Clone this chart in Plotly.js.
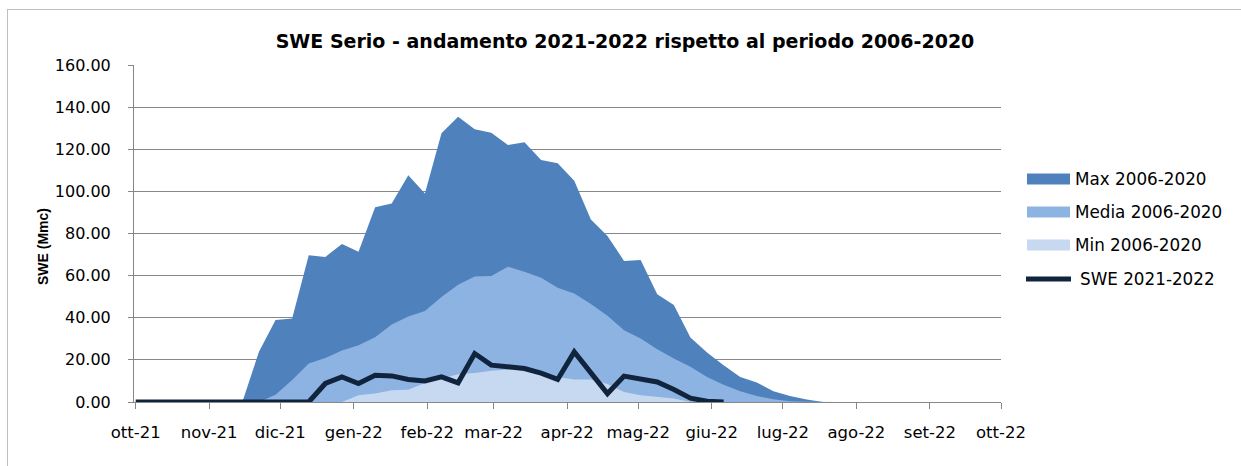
<!DOCTYPE html>
<html>
<head>
<meta charset="utf-8">
<script src="https://cdn.plot.ly/plotly-3.0.1.min.js"></script>
<style>
  html, body { margin: 0; padding: 0; background: #ffffff; }
  #wrap { position: relative; width: 1241px; height: 466px; overflow: hidden; }
  #chart { width: 1241px; height: 466px; }
  #frame { position: absolute; left: 7px; top: 9px; width: 1250px; height: 470px;
           border: 1px solid #bfbfbf; pointer-events: none; }
</style>
</head>
<body>
<div id="wrap">
  <div id="chart"></div>
  <div id="frame"></div>
</div>
<script>
// ---- data ----
const dates = [
  '2021-10-01','2021-10-04','2021-10-11','2021-10-18','2021-10-25','2021-11-01','2021-11-08',
  '2021-11-15','2021-11-22','2021-11-29','2021-12-06','2021-12-13','2021-12-20','2021-12-27',
  '2022-01-03','2022-01-10','2022-01-17','2022-01-24','2022-01-31','2022-02-07','2022-02-14',
  '2022-02-21','2022-02-28','2022-03-07','2022-03-14','2022-03-21','2022-03-28','2022-04-04',
  '2022-04-11','2022-04-18','2022-04-25','2022-05-02','2022-05-09','2022-05-16','2022-05-23',
  '2022-05-30','2022-06-06','2022-06-13','2022-06-20','2022-06-27','2022-07-04','2022-07-11',
  '2022-07-18','2022-07-25'
];
const maxVals = [
  0, 0, 0, 0, 0, 0, 0,
  0, 23.8, 38.9, 39.7, 69.7, 68.9, 75.0,
  71.3, 92.5, 94.3, 107.7, 99.0, 127.6, 135.4,
  129.5, 127.8, 122.0, 123.3, 114.9, 113.3, 105.0,
  86.7, 78.8, 67.0, 67.4, 51.2, 46.0, 30.6,
  23.5, 17.5, 11.9, 9.3, 5.1, 2.8, 1.2,
  0, 0
];
const mediaVals = [
  0, 0, 0, 0, 0, 0, 0,
  0, 0, 3.5, 10.4, 18.3, 20.9, 24.4,
  27.0, 30.8, 36.8, 40.6, 43.2, 49.8, 55.7,
  59.6, 59.8, 64.2, 61.8, 59.0, 54.2, 51.5,
  46.5, 40.9, 34.1, 30.2, 25.1, 20.7, 16.7,
  11.9, 8.2, 5.1, 2.8, 1.3, 0.4, 0.1,
  0, 0
];
const minVals = [
  0, 0, 0, 0, 0, 0, 0,
  0, 0, 0, 0, 0, 0, 0,
  3.2, 4.0, 5.6, 5.8, 9.0, 11.2, 13.2,
  13.8, 14.8, 15.4, 15.6, 14.0, 11.9, 10.7,
  10.7, 8.5, 4.8, 3.2, 2.4, 1.7, 0,
  0, 0, 0, 0, 0, 0, 0,
  0, 0
];
const sweVals = [
  0, 0, 0, 0, 0, 0, 0,
  0, 0, 0, 0, 0, 8.8, 11.9,
  8.8, 12.7, 12.4, 10.7, 10.0, 11.9, 9.1,
  23.0, 17.5, 16.7, 15.9, 13.7, 10.7, 23.8,
  14.3, 4.0, 12.3, 11.2, 9.5, 5.9, 1.8,
  0.4, 0, null, null, null, null, null,
  null, null
];
const tickDates = [
  '2021-10-01','2021-11-01','2021-12-01','2022-01-01','2022-02-01','2022-03-01','2022-04-01',
  '2022-05-01','2022-06-01','2022-07-01','2022-08-01','2022-09-01','2022-10-01'
];
const tickLabels = [
  'ott-21','nov-21','dic-21','gen-22','feb-22','mar-22','apr-22',
  'mag-22','giu-22','lug-22','ago-22','set-22','ott-22'
];
const seriesNames = ['Max 2006-2020', 'Media 2006-2020', 'Min 2006-2020', 'SWE 2021-2022'];
const yTicks = [0, 20, 40, 60, 80, 100, 120, 140, 160];
const yTitle = 'SWE (Mmc)';

// ---- styles ----
const colMax = '#4f81bd';
const colMedia = '#8db3e2';
const colMin = '#c6d9f1';
const colLine = '#10243e';
const gridCol = '#878787';
const W = 1241, H = 466;
const M = { l: 134, r: 240, t: 65, b: 64 };
const plotW = W - M.l - M.r, plotH = H - M.t - M.b;
const px = x => (x - M.l) / plotW;     // pixel -> paper x
const py = y => (H - M.b - y) / plotH; // pixel -> paper y

function area(vals, name, col) {
  return {
    type: 'scatter', mode: 'lines', x: dates, y: vals, name: name,
    fill: 'tozeroy', fillcolor: col, line: { color: col, width: 0 },
    hoverinfo: 'x+y', showlegend: false
  };
}
const traces = [
  area(maxVals, seriesNames[0], colMax),
  area(mediaVals, seriesNames[1], colMedia),
  area(minVals, seriesNames[2], colMin),
  {
    type: 'scatter', mode: 'lines', x: dates, y: sweVals, name: seriesNames[3],
    line: { color: colLine, width: 5 }, connectgaps: false, showlegend: false
  }
];

// custom legend (swatches + text)
const legendFont = { family: 'DejaVu Sans', size: 16.8, color: '#000000' };
const swatches = [
  { col: colMax, yc: 179 },
  { col: colMedia, yc: 212 },
  { col: colMin, yc: 245 }
];
const shapes = swatches.map(s => ({
  type: 'rect', xref: 'paper', yref: 'paper',
  x0: px(1027), x1: px(1070), y0: py(s.yc - 5.5), y1: py(s.yc + 5.5),
  fillcolor: s.col, line: { width: 0 }
}));
shapes.push({
  type: 'line', xref: 'paper', yref: 'paper',
  x0: px(1026), x1: px(1071), y0: py(279), y1: py(279),
  line: { color: colLine, width: 5 }
});
const legendY = [179, 212, 245, 279];
const legendX = [1073, 1073, 1073, 1078];
const annotations = seriesNames.map((n, i) => ({
  text: n, xref: 'paper', yref: 'paper', x: px(legendX[i]), y: py(legendY[i]),
  xanchor: 'left', yanchor: 'middle', showarrow: false, font: legendFont
}));
// y-axis title, placed where the reference shows it
annotations.push({
  text: yTitle, xref: 'paper', yref: 'paper', x: px(43), y: py(247),
  xanchor: 'center', yanchor: 'middle', textangle: -90, showarrow: false,
  font: { family: 'Liberation Sans', size: 14, weight: 'bold', color: '#000000' }
});

const layout = {
  width: W, height: H,
  margin: M,
  paper_bgcolor: '#ffffff', plot_bgcolor: '#ffffff',
  title: {
    text: 'SWE Serio - andamento 2021-2022 rispetto al periodo 2006-2020',
    font: { family: 'DejaVu Sans', size: 19, weight: 'bold', color: '#000000' },
    xref: 'container', x: 625 / W, xanchor: 'center',
    yref: 'container', y: 1 - 41 / H, yanchor: 'middle'
  },
  xaxis: {
    type: 'date',
    range: ['2021-09-30 07:00', '2022-10-01'],
    tickmode: 'array', tickvals: tickDates, ticktext: tickLabels,
    ticks: 'outside', ticklen: 6, tickcolor: gridCol, tickwidth: 1,
    showline: true, linecolor: gridCol, linewidth: 1,
    showgrid: false, zeroline: false,
    ticklabelstandoff: 9,
    tickfont: { family: 'DejaVu Sans', size: 16.5, color: '#000000' },
    layer: 'below traces', fixedrange: true
  },
  yaxis: {
    range: [0, 160],
    tickmode: 'array', tickvals: yTicks, tickformat: '.2f',
    ticks: 'outside', ticklen: 5, tickcolor: gridCol, tickwidth: 1,
    showline: true, linecolor: gridCol, linewidth: 1,
    showgrid: true, gridcolor: gridCol, gridwidth: 1,
    zeroline: false,
    ticklabelstandoff: 14,
    tickfont: { family: 'DejaVu Sans', size: 16, color: '#000000' },
    layer: 'below traces', fixedrange: true
  },
  shapes: shapes,
  annotations: annotations,
  showlegend: false
};

Plotly.newPlot('chart', traces, layout, { displayModeBar: false, staticPlot: true });
</script>
</body>
</html>
